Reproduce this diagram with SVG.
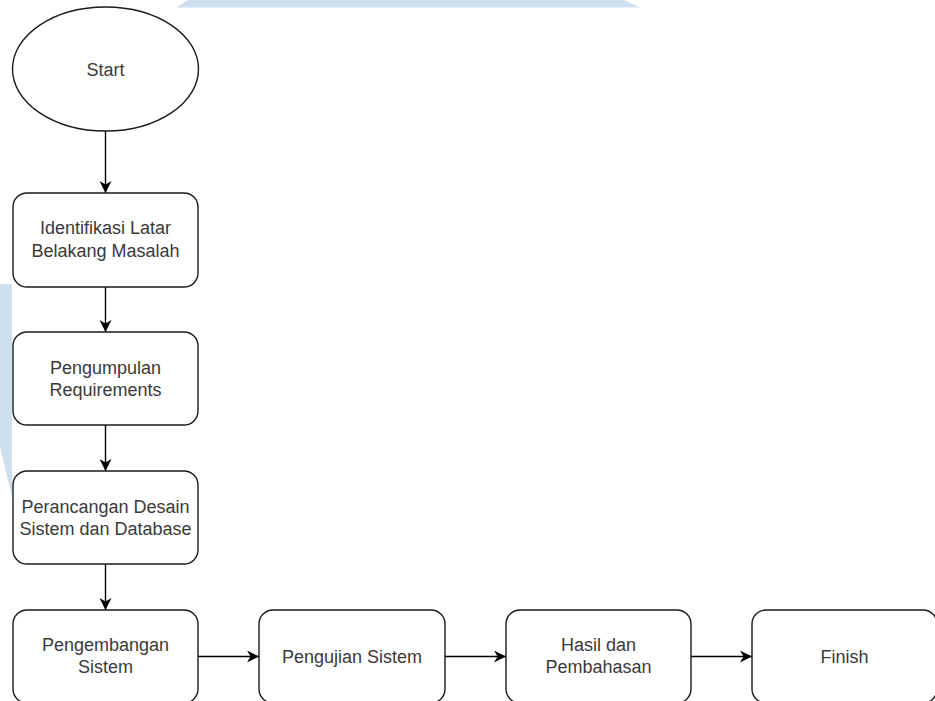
<svg xmlns="http://www.w3.org/2000/svg" width="935" height="701" viewBox="0 0 935 701">
  <style>
    .node { fill: #ffffff; stroke: #1a1a1a; stroke-width: 1.4; }
    .lbl { font-family: "Liberation Sans", Arial, Helvetica, sans-serif; font-size: 18px; fill: #3a3a3a; text-anchor: middle; }
    .edge { fill: none; stroke: #000000; stroke-width: 1.4; marker-end: url(#arrow); }
    .wm { fill: #cfdfee; }
  </style>
  <defs>
    <marker id="arrow" viewBox="0 0 10 10" refX="10" refY="5" markerWidth="12" markerHeight="12" markerUnits="userSpaceOnUse" orient="auto">
      <path d="M0,0 L10,5 L0,10 L3,5 Z" fill="#000000"/>
    </marker>
  </defs>
  <rect x="0" y="0" width="935" height="701" fill="#ffffff"/>
  <g id="watermark">
    <polygon class="wm" points="188,0 624,0 640,7.5 176,7.5"/>
    <polygon class="wm" points="0,284 12,284 12,497 0,447"/>
  </g>
  <g id="connectors">
    <line class="edge" x1="105.5" y1="131" x2="105.5" y2="193"/>
    <line class="edge" x1="105.5" y1="287" x2="105.5" y2="332"/>
    <line class="edge" x1="105.5" y1="425" x2="105.5" y2="471"/>
    <line class="edge" x1="105.5" y1="564" x2="105.5" y2="610"/>
    <line class="edge" x1="198" y1="656.5" x2="259" y2="656.5"/>
    <line class="edge" x1="445" y1="656.5" x2="506" y2="656.5"/>
    <line class="edge" x1="691" y1="656.5" x2="752" y2="656.5"/>
  </g>
  <g id="start">
    <ellipse class="node" cx="105.5" cy="69" rx="93" ry="62"/>
    <text class="lbl" x="105.5" y="76">Start</text>
  </g>
  <g id="identifikasi">
    <rect class="node" x="13" y="193" width="185" height="94" rx="14" ry="14"/>
    <text class="lbl" x="105.5" y="234"><tspan x="105.5" y="234">Identifikasi Latar</tspan><tspan x="105.5" y="257">Belakang Masalah</tspan></text>
  </g>
  <g id="pengumpulan">
    <rect class="node" x="13" y="332" width="185" height="93" rx="14" ry="14"/>
    <text class="lbl" x="105.5" y="374"><tspan x="105.5" y="374">Pengumpulan</tspan><tspan x="105.5" y="396">Requirements</tspan></text>
  </g>
  <g id="perancangan">
    <rect class="node" x="13" y="471" width="185" height="93" rx="14" ry="14"/>
    <text class="lbl" x="105.5" y="513"><tspan x="105.5" y="513">Perancangan Desain</tspan><tspan x="105.5" y="535">Sistem dan Database</tspan></text>
  </g>
  <g id="pengembangan">
    <rect class="node" x="13" y="610" width="185" height="93" rx="14" ry="14"/>
    <text class="lbl" x="105.5" y="651"><tspan x="105.5" y="651">Pengembangan</tspan><tspan x="105.5" y="673">Sistem</tspan></text>
  </g>
  <g id="pengujian">
    <rect class="node" x="259" y="610" width="186" height="93" rx="14" ry="14"/>
    <text class="lbl" x="352" y="663">Pengujian Sistem</text>
  </g>
  <g id="hasil">
    <rect class="node" x="506" y="610" width="185" height="93" rx="14" ry="14"/>
    <text class="lbl" x="598.5" y="651"><tspan x="598.5" y="651">Hasil dan</tspan><tspan x="598.5" y="673">Pembahasan</tspan></text>
  </g>
  <g id="finish">
    <rect class="node" x="752" y="610" width="185" height="93" rx="14" ry="14"/>
    <text class="lbl" x="844.5" y="663">Finish</text>
  </g>
</svg>
